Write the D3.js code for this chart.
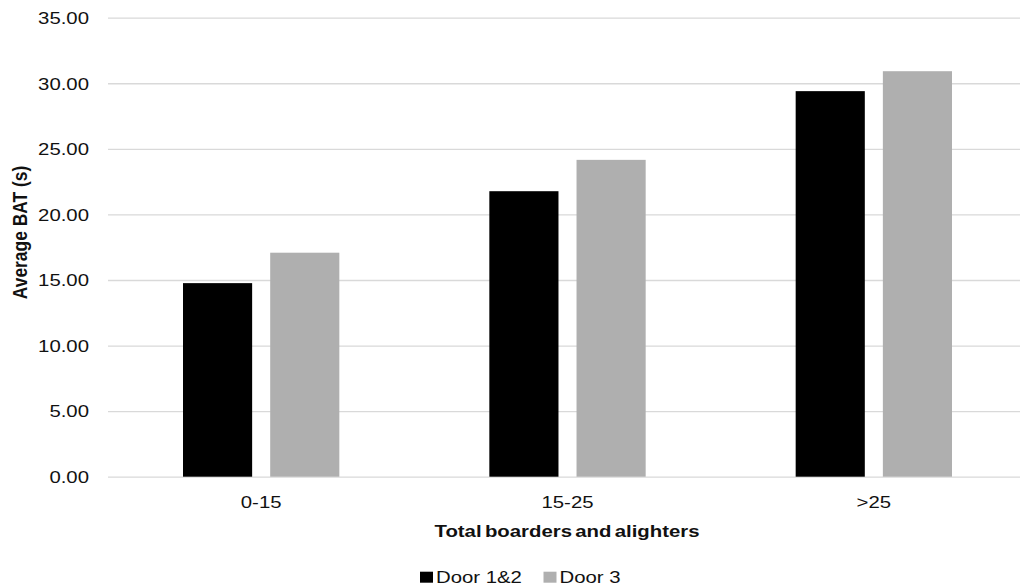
<!DOCTYPE html>
<html><head><meta charset="utf-8">
<script src="https://cdn.jsdelivr.net/npm/d3@7"></script>
<style>body{margin:0;background:#fff}svg{display:block}text{font-family:"Liberation Sans",Arial,sans-serif;fill:#111}</style>
</head><body>
<script>
const categories = ["0-15", "15-25", ">25"];
const seriesNames = ["Door 1&2", "Door 3"];
const door12 = [14.76, 21.77, 29.40];
const door3 = [17.08, 24.16, 30.92];
const yTicks = [0, 5, 10, 15, 20, 25, 30, 35];
const colors = ["#000000", "#afafaf"];

const W = 1020, H = 588, FS = 17.4, SX = 1.17;
const svg = d3.select("body").append("svg").attr("width", W).attr("height", H);

const x = d3.scaleBand().domain(categories).range([108, 1027]).padding(0);
const xi = d3.scaleBand().domain(seriesNames).range([75, x.bandwidth() - 75]).paddingInner(0.207).paddingOuter(0);
const y = d3.scaleLinear().domain([0, 35]).range([476.7, 17.7]);

// gridlines
const yAxis = d3.axisLeft(y).tickValues(yTicks).tickSize(-(W - 108)).tickFormat("");
const gy = svg.append("g").attr("transform", "translate(108,0)").call(yAxis);
gy.select(".domain").remove();
gy.selectAll(".tick line").attr("stroke", "#d9d9d9").attr("stroke-width", 1.3);

// y tick labels (stretched horizontally)
svg.append("g").selectAll("text").data(yTicks).join("text")
  .attr("transform", d => `translate(89,${y(d)}) scale(${SX},1)`)
  .attr("text-anchor", "end").attr("dy", "0.36em").attr("font-size", FS)
  .text(d => d3.format(".2f")(d));

// bars
const rows = categories.map((c, i) => ({c, vals: [door12[i], door3[i]]}));
const g = svg.append("g");
g.selectAll("g").data(rows).join("g")
  .attr("transform", d => `translate(${x(d.c)},0)`)
  .selectAll("rect").data(d => d.vals.map((v, j) => ({k: seriesNames[j], v, j})))
  .join("rect")
  .attr("x", d => xi(d.k)).attr("width", xi.bandwidth())
  .attr("y", d => y(d.v)).attr("height", d => y(0) - y(d.v))
  .attr("fill", d => colors[d.j]);

// x tick labels
svg.append("g").selectAll("text").data(categories).join("text")
  .attr("transform", d => `translate(${x(d) + x.bandwidth() / 2},507.5) scale(${SX},1)`)
  .attr("text-anchor", "middle").attr("font-size", FS).text(d => d);

// axis titles
svg.append("text")
  .attr("transform", `translate(567,537) scale(${SX},1)`)
  .attr("text-anchor", "middle").attr("font-size", FS).attr("font-weight", "bold")
  .attr("word-spacing", "-2px")
  .text("Total boarders and alighters");
svg.append("text")
  .attr("transform", `translate(27,232.5) scale(${SX},1) rotate(-90)`)
  .attr("text-anchor", "middle").attr("font-size", FS).attr("font-weight", "bold")
  .text("Average BAT (s)");

// legend
const legX = [420, 543.5];
const lg = svg.append("g").selectAll("g").data(seriesNames).join("g")
  .attr("transform", (d, i) => `translate(${legX[i]},0)`);
lg.append("rect").attr("x", 0).attr("y", 571.7).attr("width", 13).attr("height", 11)
  .attr("fill", (d, i) => colors[i]);
lg.append("text").attr("transform", `translate(16,583.3) scale(${SX},1)`)
  .attr("font-size", FS).text(d => d);
</script>
</body></html>
